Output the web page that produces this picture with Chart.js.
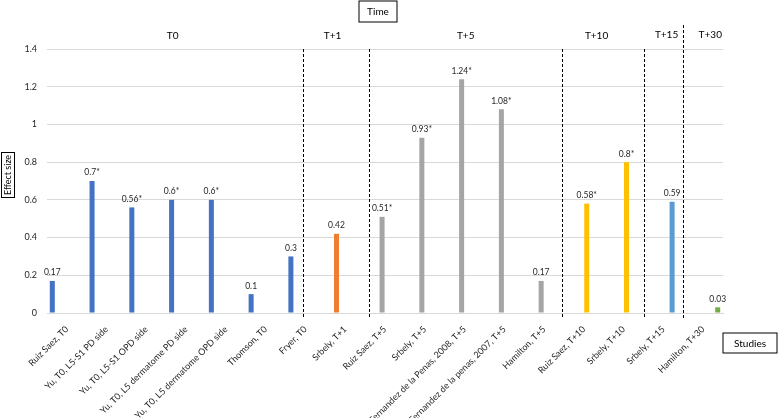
<!DOCTYPE html>
<html>
<head>
<meta charset="utf-8">
<script src="https://cdn.jsdelivr.net/npm/chart.js@4.4.1/dist/chart.umd.min.js"></script>
<style>
  html, body { margin: 0; padding: 0; background: #fff; }
  #wrap { width: 778px; height: 418px; position: relative; }
</style>
</head>
<body>
<div id="wrap"><canvas id="effectChart"></canvas></div>
<script>
// Studies along the x axis
const studies = [
  'Ruiz Saez, T0',
  'Yu, T0, L5-S1 PD side',
  'Yu, T0, L5-S1 OPD side',
  'Yu, T0, L5 dermatome PD side',
  'Yu, T0, L5 dermatome OPD side',
  'Thomson, T0',
  'Fryer, T0',
  'Srbely, T+1',
  'Ruiz Saez, T+5',
  'Srbely, T+5',
  'Fernandez de la Penas, 2008, T+5',
  'Fernandez de la penas, 2007, T+5',
  'Hamilton, T+5',
  'Ruiz Saez, T+10',
  'Srbely, T+10',
  'Srbely, T+15',
  'Hamilton, T+30'
];
const effectSizes = [0.17, 0.7, 0.56, 0.6, 0.6, 0.1, 0.3, 0.42, 0.51, 0.93, 1.24, 1.08, 0.17, 0.58, 0.8, 0.59, 0.03];
const significant = [false, true, true, true, true, false, false, false, true, true, true, true, false, true, true, false, false];
const timeOfStudy = ['T0', 'T0', 'T0', 'T0', 'T0', 'T0', 'T0', 'T+1', 'T+5', 'T+5', 'T+5', 'T+5', 'T+5', 'T+10', 'T+10', 'T+15', 'T+30'];

const timeGroups = ['T0', 'T+1', 'T+5', 'T+10', 'T+15', 'T+30'];
const groupColors = ['#4472C4', '#ED7D31', '#A5A5A5', '#FFC000', '#5B9BD5', '#70AD47'];
// where the group names and dashed separators sit, in category units
const groupLabelAt = [2.66, 6.68, 10.03, 13.32, 15.08, 16.18];
const separatorAt = [5.95, 7.61, 12.44, 14.52, 15.5];

const yTicks = [0, 0.2, 0.4, 0.6, 0.8, 1, 1.2, 1.4];

const datasets = timeGroups.map((t, g) => ({
  label: t,
  data: effectSizes.map((v, i) => (timeOfStudy[i] === t ? v : null)),
  backgroundColor: groupColors[g],
  categoryPercentage: 0.88,
  barPercentage: 0.86
}));

const FONT = 'Lato, "Open Sans", sans-serif';

const decorations = {
  id: 'decorations',
  afterDatasetsDraw(chart) {
    const ctx = chart.ctx;
    const x = chart.scales.x;
    const y = chart.scales.y;
    const area = chart.chartArea;
    ctx.save();

    // value labels over the bars
    ctx.fillStyle = '#262626';
    ctx.font = '8.5px ' + FONT;
    ctx.textAlign = 'center';
    ctx.textBaseline = 'bottom';
    chart.data.datasets.forEach((ds, d) => {
      chart.getDatasetMeta(d).data.forEach((bar, i) => {
        if (ds.data[i] === null) return;
        ctx.fillText(effectSizes[i] + (significant[i] ? '*' : ''), bar.x, bar.y - 4);
      });
    });

    // dashed separators between time points
    ctx.strokeStyle = '#000';
    ctx.lineWidth = 1;
    ctx.setLineDash([3, 2]);
    separatorAt.forEach((pos, k) => {
      const px = Math.round(x.getPixelForValue(pos)) + 0.5;
      const top = k === separatorAt.length - 1 ? area.top - 24 : y.getPixelForValue(1.4);
      ctx.beginPath();
      ctx.moveTo(px, top);
      ctx.lineTo(px, area.bottom + 5);
      ctx.stroke();
    });
    ctx.setLineDash([]);

    // time point names
    ctx.fillStyle = '#000';
    ctx.font = '10px ' + FONT;
    ctx.textBaseline = 'middle';
    groupLabelAt.forEach((pos, k) => {
      const yy = k >= 4 ? area.top - 14 : area.top - 13;
      ctx.fillText(timeGroups[k], x.getPixelForValue(pos), yy);
    });

    // boxed axis titles
    const box = (text, cx, cy, w, h, rot, size) => {
      ctx.save();
      ctx.translate(cx, cy);
      if (rot) ctx.rotate(-Math.PI / 2);
      ctx.fillStyle = '#fff';
      ctx.fillRect(-w / 2, -h / 2, w, h);
      ctx.strokeStyle = '#000';
      ctx.lineWidth = 1;
      ctx.strokeRect(-w / 2 + 0.5, -h / 2 + 0.5, w - 1, h - 1);
      ctx.fillStyle = '#000';
      ctx.font = size + 'px ' + FONT;
      ctx.textAlign = 'center';
      ctx.textBaseline = 'middle';
      ctx.fillText(text, 0, 0.5);
      ctx.restore();
    };
    box('Time', 378, 11.5, 39, 22, false, 10);
    box('Studies', 750, 343, 55, 21, false, 10);
    box('Effect size', 8, 175, 46, 14, true, 9);

    ctx.restore();
  }
};

new Chart(document.getElementById('effectChart'), {
  type: 'bar',
  data: { labels: studies, datasets: datasets },
  options: {
    responsive: true,
    maintainAspectRatio: false,
    animation: false,
    layout: { padding: { top: 49, right: 55, bottom: 0, left: 0 } },
    plugins: {
      legend: { display: false },
      tooltip: { enabled: false }
    },
    scales: {
      x: {
        grid: { display: false },
        border: { color: '#d9d9d9' },
        ticks: {
          autoSkip: false,
          minRotation: 45,
          maxRotation: 45,
          padding: 3,
          color: '#262626',
          font: { family: FONT, size: 9 }
        },
        afterFit(scale) { scale.height = 105; }
      },
      y: {
        min: 0,
        max: 1.4,
        afterBuildTicks(scale) { scale.ticks = yTicks.map(v => ({ value: v })); },
        grid: { color: '#d9d9d9', drawTicks: false },
        border: { display: false },
        ticks: {
          padding: 10,
          color: '#262626',
          font: { family: FONT, size: 9 },
          callback: (v) => String(v)
        },
        afterFit(scale) { scale.width = 47; }
      }
    }
  },
  plugins: [decorations]
});
</script>
</body>
</html>
